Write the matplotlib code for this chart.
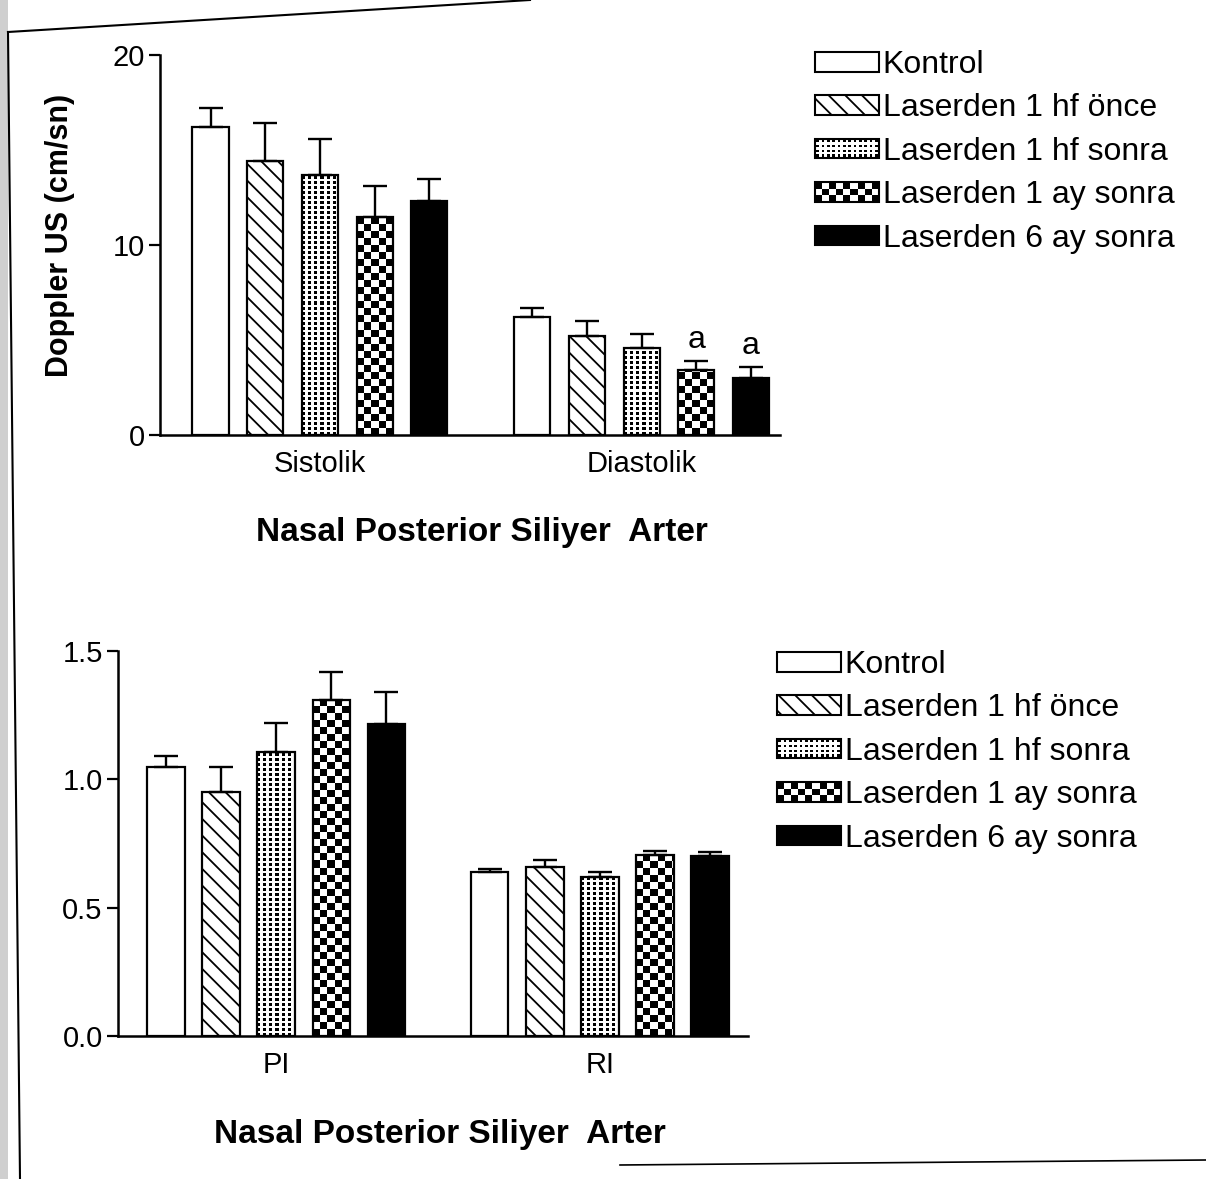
import numpy as np
import matplotlib
matplotlib.use('Agg')
import matplotlib.pyplot as plt
from matplotlib.patches import Rectangle
from matplotlib.lines import Line2D
from matplotlib.legend_handler import HandlerBase

plt.rcParams['font.family'] = ['Liberation Sans', 'DejaVu Sans']
plt.rcParams['hatch.linewidth'] = 1.3

# veriler
groups_top = ['Sistolik', 'Diastolik']
groups_bot = ['PI', 'RI']
series = ['Kontrol', 'Laserden 1 hf önce', 'Laserden 1 hf sonra',
          'Laserden 1 ay sonra', 'Laserden 6 ay sonra']

# Doppler US (cm/sn): [sistolik, diastolik]
kontrol_v = [16.2, 6.2]
once_v = [14.4, 5.2]
sonra_v = [13.7, 4.6]
ay1_v = [11.5, 3.4]
ay6_v = [12.3, 3.0]
kontrol_e = [1.0, 0.5]
once_e = [2.0, 0.8]
sonra_e = [1.9, 0.7]
ay1_e = [1.6, 0.5]
ay6_e = [1.2, 0.6]

# PI / RI
kontrol_p = [1.05, 0.64]
once_p = [0.95, 0.66]
sonra_p = [1.105, 0.62]
ay1_p = [1.31, 0.705]
ay6_p = [1.215, 0.70]
kontrol_pe = [0.04, 0.01]
once_pe = [0.10, 0.025]
sonra_pe = [0.115, 0.02]
ay1_pe = [0.11, 0.015]
ay6_pe = [0.125, 0.015]

# 'a' isaretleri (diastolik, 1 ay ve 6 ay)
sig_marks = [(1, 3), (1, 4)]

styles = ['white', 'hatch', 'dots', 'checker', 'black']
HATCH = '\\\\'


def fill_pattern(ax, rect, kind):
    x0, y0 = rect.get_x(), rect.get_y()
    x1, y1 = x0 + rect.get_width(), y0 + rect.get_height()
    (px0, py0), (px1, py1) = ax.transData.transform([(x0, y0), (x1, y1)])
    w = max(int(round(px1 - px0)), 1)
    h = max(int(round(py1 - py0)), 1)
    yy, xx = np.mgrid[0:h, 0:w]
    if kind == 'checker':
        img = ((xx // 7 + yy // 7) % 2 == 0)
    else:
        img = (xx % 6 < 3) & (yy % 5 < 3)
    ax.imshow(img.astype(float), cmap='gray_r', vmin=0, vmax=1,
              extent=(x0, x1, y0, y1), origin='lower',
              interpolation='nearest', aspect='auto', zorder=2)


class PatternHandler(HandlerBase):
    def __init__(self, kind):
        super().__init__()
        self.kind = kind

    def create_artists(self, legend, orig_handle, xdescent, ydescent,
                       width, height, fontsize, trans):
        arts = []
        x0, y0 = -xdescent, -ydescent
        if self.kind == 'checker':
            nx, ny = 9, 3
            cw, ch = width / nx, height / ny
            for i in range(nx):
                for j in range(ny):
                    if (i + j) % 2 == 0:
                        arts.append(Rectangle((x0 + i * cw, y0 + j * ch), cw, ch,
                                              fc='black', ec='none', transform=trans))
        else:
            nx, ny = 12, 4
            cw, ch = width / nx, height / ny
            for i in range(nx):
                for j in range(ny):
                    arts.append(Rectangle((x0 + (i + 0.25) * cw, y0 + (j + 0.25) * ch),
                                          cw * 0.5, ch * 0.55, fc='black', ec='none',
                                          transform=trans))
        arts.append(Rectangle((x0, y0), width, height, fc='none', ec='black',
                              lw=1.5, transform=trans))
        return arts


def make_handles():
    h = []
    h.append(Rectangle((0, 0), 1, 1, fc='white', ec='black', lw=1.5))
    h.append(Rectangle((0, 0), 1, 1, fc='white', ec='black', lw=1.5, hatch=HATCH))
    h.append(Rectangle((0, 0), 1, 1, fc='white', ec='black', lw=1.5))
    h.append(Rectangle((0, 0), 1, 1, fc='white', ec='black', lw=1.5))
    h.append(Rectangle((0, 0), 1, 1, fc='black', ec='black', lw=1.5))
    hmap = {h[2]: PatternHandler('dots'), h[3]: PatternHandler('checker')}
    return h, hmap


def draw_panel(ax, groups, vals, errs, xlim, ylim, yticks, ytl, step, width):
    ax.set_xlim(*xlim)
    ax.set_ylim(*ylim)
    x = np.arange(len(groups))
    tops = []
    for i, (v, e, st) in enumerate(zip(vals, errs, styles)):
        pos = x + (i - 2) * step
        ax.errorbar(pos, v, yerr=[np.zeros(len(e)), e], fmt='none', ecolor='black',
                    elinewidth=1.7, capsize=8.5, capthick=1.7, zorder=4)
        if st == 'white':
            bars = ax.bar(pos, v, width, color='white', edgecolor='black', lw=1.6, zorder=3)
        elif st == 'hatch':
            bars = ax.bar(pos, v, width, color='white', edgecolor='black', lw=1.6,
                          hatch=HATCH, zorder=3)
        elif st == 'black':
            bars = ax.bar(pos, v, width, color='black', edgecolor='black', lw=1.6, zorder=3)
        else:
            bars = ax.bar(pos, v, width, facecolor='none', edgecolor='black', lw=1.6, zorder=3)
            for r in bars:
                fill_pattern(ax, r, st)
        tops.append([vv + ee for vv, ee in zip(v, e)])
    ax.set_xlim(*xlim)
    ax.set_ylim(*ylim)
    ax.set_xticks(x)
    ax.set_xticklabels(groups, fontsize=21)
    ax.set_yticks(yticks)
    ax.set_yticklabels(ytl, fontsize=21)
    ax.tick_params(axis='x', length=0, pad=11)
    ax.tick_params(axis='y', length=8, width=1.6, pad=3)
    for s in ['top', 'right']:
        ax.spines[s].set_visible(False)
    for s in ['left', 'bottom']:
        ax.spines[s].set_linewidth(1.8)
    return tops


fig = plt.figure(figsize=(12.06, 11.79), dpi=100)

# ust panel
ax1 = fig.add_axes([160 / 1206, 1 - 435 / 1179, 620 / 1206, 380 / 1179])
vals1 = [kontrol_v, once_v, sonra_v, ay1_v, ay6_v]
errs1 = [kontrol_e, once_e, sonra_e, ay1_e, ay6_e]
tops1 = draw_panel(ax1, groups_top, vals1, errs1, (-0.497, 1.43), (0, 20),
                   [0, 10, 20], ['0', '10', '20'], 0.17, 0.112)
for g, s in sig_marks:
    ax1.text(g + (s - 2) * 0.17, tops1[s][g] + 0.3, 'a', ha='center', va='bottom',
             fontsize=23)

fig.text(60 / 1206, 1 - 235 / 1179, 'Doppler US (cm/sn)', rotation=90, ha='center',
         va='center', fontsize=22, fontweight='bold')
fig.text(482 / 1206, 1 - 533 / 1179, 'Nasal Posterior Siliyer  Arter', ha='center',
         va='center', fontsize=24, fontweight='bold')

h, hmap = make_handles()
fig.legend(h, series, handler_map=hmap, loc='upper left',
           bbox_to_anchor=(815 / 1206, 1 - 50 / 1179), frameon=False, fontsize=23,
           borderpad=0, borderaxespad=0, handlelength=2.0, handleheight=0.57,
           handletextpad=0.12, labelspacing=0.42)

# alt panel
ax2 = fig.add_axes([118 / 1206, 1 - 1036 / 1179, 630 / 1206, 385 / 1179])
vals2 = [kontrol_p, once_p, sonra_p, ay1_p, ay6_p]
errs2 = [kontrol_pe, once_pe, sonra_pe, ay1_pe, ay6_pe]
draw_panel(ax2, groups_bot, vals2, errs2, (-0.488, 1.457), (0, 1.5),
           [0, 0.5, 1.0, 1.5], ['0.0', '0.5', '1.0', '1.5'], 0.17, 0.115)

fig.text(440 / 1206, 1 - 1134 / 1179, 'Nasal Posterior Siliyer  Arter', ha='center',
         va='center', fontsize=24, fontweight='bold')

h2, hmap2 = make_handles()
fig.legend(h2, series, handler_map=hmap2, loc='upper left',
           bbox_to_anchor=(777 / 1206, 1 - 650 / 1179), frameon=False, fontsize=23,
           borderpad=0, borderaxespad=0, handlelength=2.0, handleheight=0.57,
           handletextpad=0.12, labelspacing=0.42)

# tarama cercevesi
fig.add_artist(Rectangle((0, 0), 8 / 1206, 1, transform=fig.transFigure,
                         fc='#cfcfcf', ec='none'))
fig.add_artist(Line2D([8 / 1206, 20 / 1206], [1 - 32 / 1179, 0],
                      transform=fig.transFigure, color='black', lw=1.5))
fig.add_artist(Line2D([8 / 1206, 530 / 1206], [1 - 32 / 1179, 1.0],
                      transform=fig.transFigure, color='black', lw=1.5))
fig.add_artist(Line2D([620 / 1206, 1206 / 1206], [1 - 1165 / 1179, 1 - 1160 / 1179],
                      transform=fig.transFigure, color='black', lw=1.2))

fig.savefig('out.png', dpi=100)
